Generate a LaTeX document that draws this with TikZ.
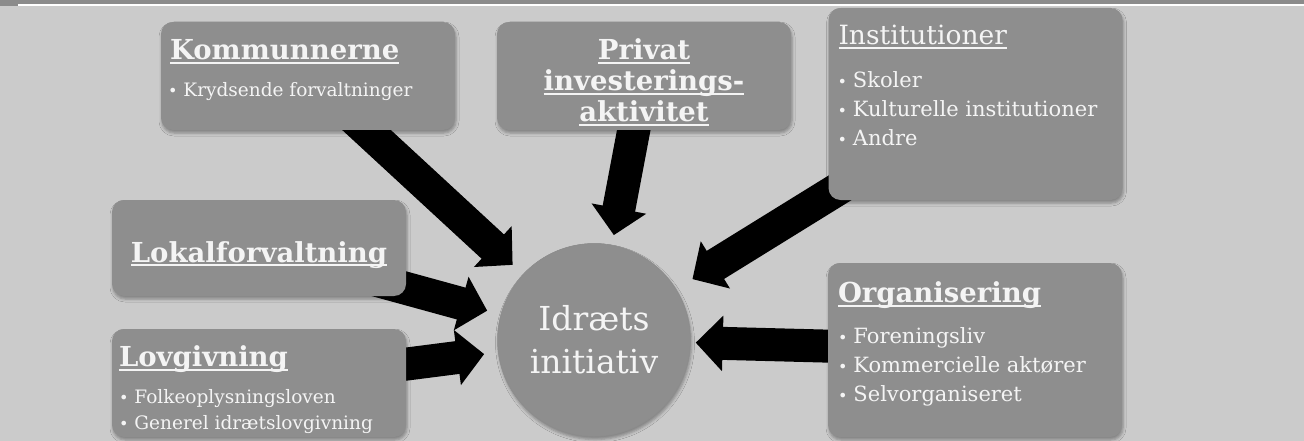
\documentclass[tikz,border=0pt]{standalone}
\usepackage{fontspec}
\setmainfont{DejaVu Serif}
\usetikzlibrary{calc,arrows.meta,shadows.blur}
\definecolor{bggray}{HTML}{CBCBCB}
\definecolor{boxgray}{HTML}{8E8E8E}
\definecolor{txtwhite}{HTML}{F4F4F4}
\pgfdeclarelayer{back}
\pgfsetlayers{back,main}
\newcommand\undl[1]{\setbox0=\hbox{#1}\rlap{\rule[-4pt]{\wd0}{1.8pt}}\box0}
\newcommand\bul{{\fontsize{16}{16}\selectfont\raisebox{0.5pt}{\textbullet}}\hspace{6pt}}

\begin{document}
\begin{tikzpicture}[x=1pt,y=1pt,
    box/.style={rectangle, rounded corners=12pt, fill=boxgray,
      minimum width=294pt, minimum height=108pt,
      blur shadow={shadow xshift=1pt, shadow yshift=-3pt,
        shadow blur radius=3pt, shadow opacity=35}},
    hd/.style={font=\fontsize{27.5}{31}\selectfont\bfseries, text=txtwhite,
      inner sep=0pt, anchor=base west},
    itm/.style={font=\fontsize{21}{25}\selectfont, text=txtwhite,
      inner sep=0pt, anchor=base west},
    sitm/.style={itm, font=\fontsize{18.5}{22}\selectfont},
    arw/.style={line width=33pt, -{Triangle[length=27pt,width=54pt]},
      shorten >=14pt}]
  \useasboundingbox (0,0) rectangle (1304,-441);

  % boxes
  \node[box] (komm) at (308,-76) {};
  \node[box] (priv) at (644,-76) {};
  \node[box, minimum height=192pt] (inst) at (975.5,-104) {};
  \node[box, minimum height=96pt] (lokal) at (259,-248) {};
  \node[box] (lov) at (259,-383) {};
  \node[box, minimum height=174pt] (org) at (975,-350) {};
  \node[circle, fill=boxgray, draw=black!45, line width=0.5pt,
    minimum size=193pt, text=txtwhite, align=center,
    font=\fontsize{33}{43}\selectfont,
    blur shadow={shadow xshift=1pt, shadow yshift=-3pt,
      shadow blur radius=3pt, shadow opacity=35}] (circ) at (594,-340)
    {Idræts\\initiativ};

  % texts
  \node[hd] (komm-h) at ($(komm.north west)+(9,-38)$) {\undl{Kommunnerne}};
  \node[sitm] (komm-1) at ($(komm.north west)+(7,-75)$) {\bul Krydsende forvaltninger};

  \foreach \w [count=\i] in {Privat,investerings-,aktivitet}
    \node[hd, anchor=base] (priv-\i) at ($(priv.north)+(0,-7-31*\i)$) {\undl{\w}};

  \node[hd, font=\fontsize{26.5}{30}\selectfont] (inst-h) at ($(inst.north west)+(10,-37)$) {\undl{Institutioner}};
  \foreach \t [count=\i] in {Skoler,Kulturelle institutioner,Andre}
    \node[itm] (inst-\i) at ($(inst.north west)+(9,-51-29*\i)$) {\bul \t};

  \node[hd, anchor=base] (lokal-h) at ($(lokal.center)+(0,-14)$) {\undl{Lokalforvaltning}};

  \node[hd] (lov-h) at ($(lov.north west)+(7,-38)$) {\undl{Lovgivning}};
  \foreach \t [count=\i] in {Folkeoplysningsloven,Generel idrætslovgivning}
    \node[sitm] (lov-\i) at ($(lov.north west)+(7,-49-26*\i)$) {\bul \t};

  \node[hd] (org-h) at ($(org.north west)+(10,-40)$) {\undl{Organisering}};
  \foreach \t [count=\i] in {Foreningsliv,Kommercielle aktører,Selvorganiseret}
    \node[itm] (org-\i) at ($(org.north west)+(10,-52-29*\i)$) {\bul \t};

  % background and arrows
  \begin{pgfonlayer}{back}
    \fill[bggray] (0,0) rectangle (1304,-441);
    \fill[boxgray!98!black] (0,0) rectangle (1304,-6);
    \fill[white] (18,-4.5) rectangle (1304,-6.5);
    \draw[arw] (komm.center) -- (circ);
    \draw[arw, shorten >=10pt] (priv.center) -- (circ);
    \draw[arw, shorten >=19pt] (inst.center) -- (circ);
    \draw[arw] (lokal.center) -- (circ);
    \draw[arw] (lov.center) -- (circ);
    \draw[arw, shorten >=5pt] (org.center) -- (circ);
  \end{pgfonlayer}
\end{tikzpicture}
\end{document}
